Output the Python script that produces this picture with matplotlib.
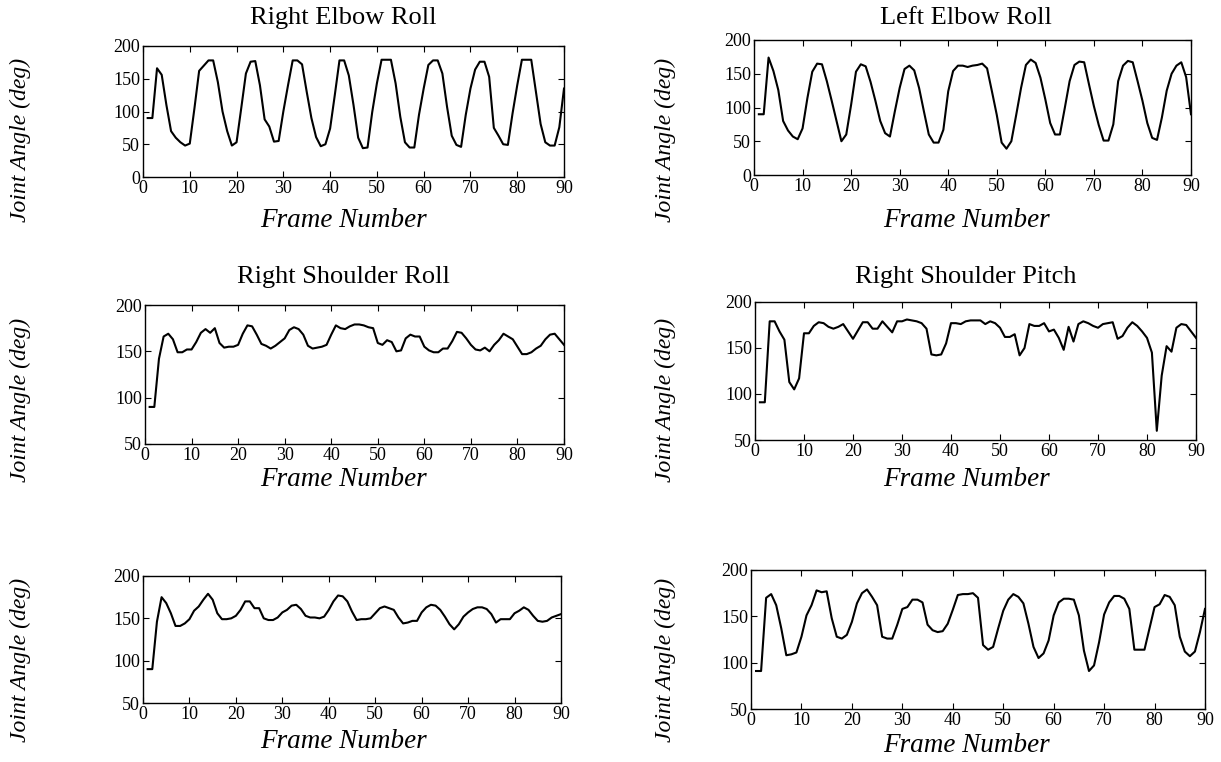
import matplotlib
matplotlib.use("Agg")
import matplotlib.pyplot as plt
import numpy as np

frames = list(range(1, 91))

right_elbow_roll = [90, 90, 166, 156, 110, 70, 60, 53, 48, 51,
                    105, 162, 170, 178, 178, 145, 100, 70, 48, 53,
                    105, 158, 176, 177, 140, 88, 77, 54, 55, 100,
                    140, 178, 178, 172, 130, 90, 61, 47, 50, 74,
                    125, 178, 178, 155, 110, 60, 44, 45, 99, 143,
                    179, 179, 179, 143, 92, 53, 45, 45, 95, 135,
                    171, 178, 178, 158, 107, 63, 49, 46, 95, 135,
                    164, 176, 176, 153, 75, 63, 50, 49, 97, 140,
                    179, 179, 179, 130, 81, 53, 48, 48, 76, 135]

left_elbow_roll = [90, 90, 174, 154, 126, 80, 66, 57, 53, 69,
                   114, 153, 165, 164, 139, 110, 80, 50, 60, 104,
                   153, 164, 161, 138, 110, 80, 62, 57, 94, 129,
                   157, 162, 155, 129, 94, 60, 48, 48, 67, 124,
                   154, 162, 162, 160, 162, 163, 165, 158, 124, 89,
                   48, 39, 50, 89, 129, 163, 171, 166, 144, 112,
                   77, 60, 60, 99, 139, 163, 168, 167, 134, 102,
                   74, 51, 51, 75, 139, 162, 169, 167, 139, 110,
                   77, 55, 52, 85, 125, 150, 162, 167, 145, 90]

right_shoulder_roll = [90, 90, 142, 166, 169, 163, 149, 149, 152, 152,
                       160, 170, 174, 170, 175, 159, 154, 155, 155, 157,
                       169, 178, 177, 168, 158, 156, 153, 156, 160, 164,
                       173, 176, 174, 168, 156, 153, 154, 155, 157, 168,
                       178, 175, 174, 177, 179, 179, 178, 176, 175, 159,
                       157, 162, 160, 150, 151, 164, 168, 166, 166, 155,
                       151, 149, 149, 153, 153, 161, 171, 170, 164, 157,
                       152, 151, 154, 150, 157, 162, 169, 166, 163, 155,
                       147, 147, 149, 153, 156, 163, 168, 169, 163, 157]

right_shoulder_pitch = [91, 91, 179, 179, 168, 159, 113, 105, 117, 166,
                        166, 174, 178, 177, 173, 171, 173, 176, 168, 160,
                        169, 178, 178, 171, 171, 179, 173, 167, 179, 179,
                        181, 180, 179, 177, 171, 143, 142, 143, 155, 177,
                        177, 176, 179, 180, 180, 180, 176, 179, 177, 172,
                        162, 162, 165, 142, 150, 176, 174, 174, 177, 168,
                        170, 161, 148, 173, 157, 176, 179, 177, 174, 172,
                        176, 177, 178, 160, 163, 172, 178, 174, 168, 161,
                        145, 60, 120, 152, 146, 172, 176, 175, 168, 161]

bottom_left = [90, 90, 146, 175, 168, 156, 141, 141, 144, 149,
               159, 164, 172, 179, 172, 156, 149, 149, 150, 153,
               160, 170, 170, 162, 162, 150, 148, 148, 151, 157,
               160, 165, 166, 161, 153, 151, 151, 150, 152, 160,
               170, 177, 176, 170, 158, 148, 149, 149, 150, 156,
               162, 164, 162, 160, 151, 144, 145, 147, 147, 157,
               163, 166, 165, 160, 152, 143, 137, 143, 152, 157,
               161, 163, 163, 161, 155, 145, 149, 149, 149, 156,
               159, 163, 160, 153, 147, 146, 147, 151, 153, 155]

bottom_right = [91, 91, 170, 174, 162, 137, 108, 109, 111, 128,
                151, 162, 178, 176, 177, 148, 128, 126, 130, 144,
                164, 175, 179, 171, 162, 128, 126, 126, 141, 158,
                160, 168, 168, 165, 141, 135, 133, 134, 142, 157,
                173, 174, 174, 175, 170, 119, 114, 117, 137, 156,
                168, 174, 171, 164, 142, 117, 105, 110, 124, 151,
                165, 169, 169, 168, 151, 113, 91, 97, 122, 152,
                165, 172, 172, 169, 158, 114, 114, 114, 137, 160,
                163, 173, 171, 162, 128, 112, 107, 112, 133, 158]

titles = ["Right Elbow Roll", "Left Elbow Roll", "Right Shoulder Roll",
          "Right Shoulder Pitch", "", ""]
xlabel_text = "Frame Number"
ylabel_text = "Joint Angle (deg)"
x_ticks = [0, 10, 20, 30, 40, 50, 60, 70, 80, 90]
y_ticks_full = [0, 50, 100, 150, 200]
y_ticks_upper = [50, 100, 150, 200]

W, H = 1221, 762
fig = plt.figure(figsize=(W / 100, H / 100), dpi=100)
serif = "Liberation Serif"

# axes boxes in pixels: left, top, right, bottom
boxes = [(143, 46, 564, 177), (754, 40, 1191, 175),
         (145, 305, 564, 444), (755, 302, 1196, 440),
         (143, 576, 561, 703), (751, 570, 1205, 709)]
series = [right_elbow_roll, left_elbow_roll, right_shoulder_roll,
          right_shoulder_pitch, bottom_left, bottom_right]
yticks_list = [y_ticks_full, y_ticks_full, y_ticks_upper, y_ticks_upper,
               y_ticks_upper, y_ticks_upper]
title_pos = [(343, 18), (966, 18), (343, 277), (966, 277), None, None]
xlabel_pos = [(343, 220), (966, 220), (343, 480), (966, 480), (343, 742), (966, 746)]
ylabel_pos = [(20, 140), (665, 140), (20, 400), (665, 400), (20, 660), (665, 660)]

for i, (l, t, r, b) in enumerate(boxes):
    ax = fig.add_axes([l / W, 1 - b / H, (r - l) / W, (b - t) / H])
    ax.plot(frames, series[i], color="black", lw=1.5)
    ax.set_xlim(0, 90)
    yt = yticks_list[i]
    ax.set_ylim(yt[0], yt[-1])
    ax.set_xticks(x_ticks)
    ax.set_yticks(yt)
    ax.tick_params(direction="in", length=4, width=0.8, top=True, right=True,
                   labelsize=13, pad=2)
    for lab in ax.get_xticklabels() + ax.get_yticklabels():
        lab.set_fontfamily(serif)
    for s in ax.spines.values():
        s.set_linewidth(1.0)
    if title_pos[i] is not None:
        fig.text(title_pos[i][0] / W, 1 - title_pos[i][1] / H, titles[i],
                 ha="center", va="center", fontsize=19, family=serif)
    fig.text(xlabel_pos[i][0] / W, 1 - xlabel_pos[i][1] / H, xlabel_text,
             ha="center", va="center", fontsize=19.5, family=serif, style="italic")
    fig.text(ylabel_pos[i][0] / W, 1 - ylabel_pos[i][1] / H, ylabel_text,
             ha="center", va="center", fontsize=17, family=serif, style="italic",
             rotation=90)

fig.savefig("out.png", dpi=100)
